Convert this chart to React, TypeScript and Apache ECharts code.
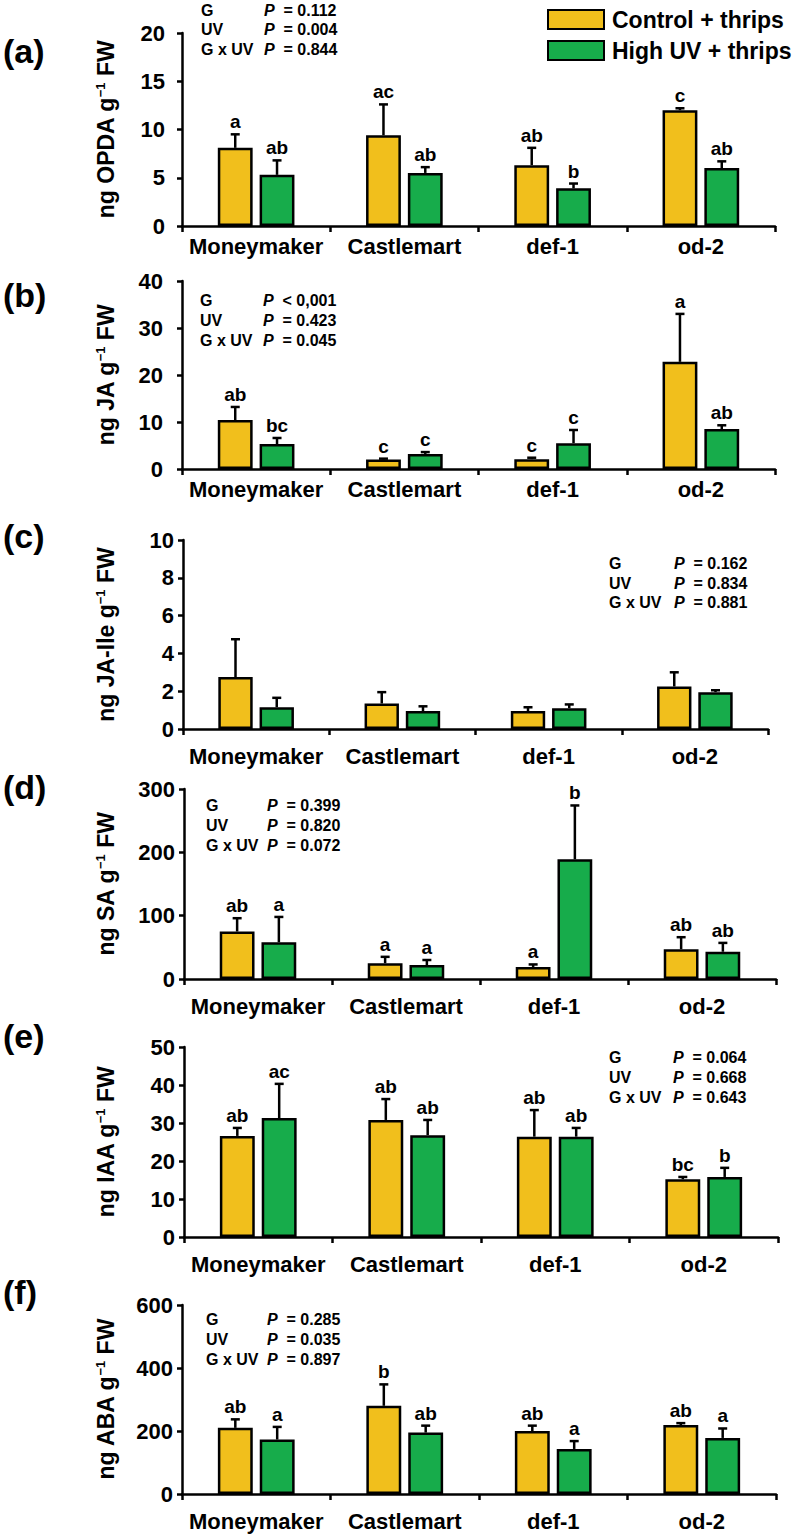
import React, { useEffect, useRef } from "react";
import * as echarts from "echarts";

const categories = ["Moneymaker", "Castlemart", "def-1", "od-2"];
const seriesNames = ["Control + thrips", "High UV + thrips"];
const statLabels = ["G", "UV", "G x UV"];

// (a) OPDA
const opdaControl = [8.1, 9.4, 6.3, 12.0];
const opdaControlErr = [1.4, 3.2, 1.8, 0.2];
const opdaUV = [5.3, 5.5, 3.9, 6.0];
const opdaUVErr = [1.5, 0.6, 0.5, 0.7];
const opdaControlLetters = ["a", "ac", "ab", "c"];
const opdaUVLetters = ["ab", "ab", "b", "ab"];
const opdaStats = ["= 0.112", "= 0.004", "= 0.844"];

// (b) JA
const jaControl = [10.4, 2.0, 2.1, 22.8];
const jaControlErr = [2.8, 0.2, 0.3, 10.2];
const jaUV = [5.3, 3.2, 5.5, 8.5];
const jaUVErr = [1.3, 0.4, 2.8, 0.8];
const jaControlLetters = ["ab", "c", "c", "a"];
const jaUVLetters = ["bc", "c", "c", "ab"];
const jaStats = ["< 0,001", "= 0.423", "= 0.045"];

// (c) JA-Ile
const jaIleControl = [2.75, 1.35, 0.95, 2.25];
const jaIleControlErr = [2.0, 0.6, 0.2, 0.75];
const jaIleUV = [1.15, 0.95, 1.1, 1.95];
const jaIleUVErr = [0.5, 0.25, 0.2, 0.1];
const jaIleControlLetters = ["", "", "", ""];
const jaIleUVLetters = ["", "", "", ""];
const jaIleStats = ["= 0.162", "= 0.834", "= 0.881"];

// (d) SA
const saControl = [75, 25, 19, 47];
const saControlErr = [21, 10, 4, 19];
const saUV = [58, 22, 189, 43];
const saUVErr = [40, 8, 85, 14];
const saControlLetters = ["ab", "a", "a", "ab"];
const saUVLetters = ["a", "a", "b", "ab"];
const saStats = ["= 0.399", "= 0.820", "= 0.072"];

// (e) IAA
const iaaControl = [26.6, 30.8, 26.4, 15.2];
const iaaControlErr = [2.1, 5.5, 7.0, 0.6];
const iaaUV = [31.3, 26.8, 26.4, 15.8];
const iaaUVErr = [9.0, 4.0, 2.3, 2.4];
const iaaControlLetters = ["ab", "ab", "ab", "bc"];
const iaaUVLetters = ["ac", "ab", "ab", "b"];
const iaaStats = ["= 0.064", "= 0.668", "= 0.643"];

// (f) ABA
const abaControl = [210, 280, 200, 219];
const abaControlErr = [27, 68, 17, 6];
const abaUV = [173, 195, 143, 178];
const abaUVErr = [40, 22, 25, 30];
const abaControlLetters = ["ab", "b", "ab", "ab"];
const abaUVLetters = ["a", "ab", "a", "a"];
const abaStats = ["= 0.285", "= 0.035", "= 0.897"];

const FONT = '"Liberation Sans", Arial, Helvetica, sans-serif';
const YELLOW = "#F1BF1C";
const GREEN = "#17AC4B";

const panels = [
  {
    tag: "(a)", title: "ng OPDA g{s|−1} FW", yMax: 20, yInterval: 5,
    control: opdaControl, controlErr: opdaControlErr, uv: opdaUV, uvErr: opdaUVErr,
    lettersC: opdaControlLetters, lettersU: opdaUVLetters, stats: opdaStats,
    grid: { left: 182, top: 33, width: 593, height: 193 },
    tagY: 51, statsX: [201, 264], statsY: [10, 29, 49], labelMargin: 17, catMargin: 9,
  },
  {
    tag: "(b)", title: "ng JA g{s|−1} FW", yMax: 40, yInterval: 10,
    control: jaControl, controlErr: jaControlErr, uv: jaUV, uvErr: jaUVErr,
    lettersC: jaControlLetters, lettersU: jaUVLetters, stats: jaStats,
    grid: { left: 182, top: 281, width: 593, height: 188 },
    tagY: 295, statsX: [200, 263], statsY: [300, 320, 340], labelMargin: 19, catMargin: 9,
  },
  {
    tag: "(c)", title: "ng JA-Ile g{s|−1} FW", yMax: 10, yInterval: 2,
    control: jaIleControl, controlErr: jaIleControlErr, uv: jaIleUV, uvErr: jaIleUVErr,
    lettersC: jaIleControlLetters, lettersU: jaIleUVLetters, stats: jaIleStats,
    grid: { left: 183, top: 540, width: 585, height: 189 },
    tagY: 536, statsX: [609, 674], statsY: [563, 583, 602], labelMargin: 9, catMargin: 16,
  },
  {
    tag: "(d)", title: "ng SA g{s|−1} FW", yMax: 300, yInterval: 100,
    control: saControl, controlErr: saControlErr, uv: saUV, uvErr: saUVErr,
    lettersC: saControlLetters, lettersU: saUVLetters, stats: saStats,
    grid: { left: 184, top: 789, width: 592, height: 190 },
    tagY: 787, statsX: [206, 267], statsY: [805, 825, 845], labelMargin: 9, catMargin: 16,
  },
  {
    tag: "(e)", title: "ng IAA g{s|−1} FW", yMax: 50, yInterval: 10,
    control: iaaControl, controlErr: iaaControlErr, uv: iaaUV, uvErr: iaaUVErr,
    lettersC: iaaControlLetters, lettersU: iaaUVLetters, stats: iaaStats,
    grid: { left: 184, top: 1047, width: 594, height: 190 },
    tagY: 1036, statsX: [609, 673], statsY: [1057, 1077, 1097], labelMargin: 9, catMargin: 16,
  },
  {
    tag: "(f)", title: "ng ABA g{s|−1} FW", yMax: 600, yInterval: 200,
    control: abaControl, controlErr: abaControlErr, uv: abaUV, uvErr: abaUVErr,
    lettersC: abaControlLetters, lettersU: abaUVLetters, stats: abaStats,
    grid: { left: 182, top: 1305, width: 594, height: 189 },
    tagY: 1292, statsX: [206, 267], statsY: [1319, 1339, 1359], labelMargin: 9, catMargin: 16,
  },
];

const BAR_W = 0.235;
const BAR_GAP = 0.2;
const OFFSET = BAR_W / 2 + (BAR_W * BAR_GAP) / 2;

function makeErr(sign: number, letters: string[]) {
  return (params: any, api: any) => {
    const ci = api.value(0);
    const v = api.value(1);
    const e = api.value(2);
    const base = api.coord([ci, v]);
    const top = api.coord([ci, v + e]);
    const cw = api.size([1, 0])[0];
    const x = base[0] + sign * cw * OFFSET;
    const children: any[] = [];
    if (e > 0) {
      children.push({
        type: "line",
        shape: { x1: x, y1: base[1], x2: x, y2: top[1] },
        style: { stroke: "#000", lineWidth: 2.5 },
      });
      children.push({
        type: "line",
        shape: { x1: x - 4.5, y1: top[1], x2: x + 4.5, y2: top[1] },
        style: { stroke: "#000", lineWidth: 2.5 },
      });
    }
    const letter = letters[params.dataIndex];
    if (letter) {
      children.push({
        type: "text",
        x: x,
        y: top[1] - 3,
        style: {
          text: letter,
          fontSize: 19,
          fontWeight: "bold",
          fontFamily: FONT,
          fill: "#000",
          align: "center",
          verticalAlign: "bottom",
        },
      });
    }
    return { type: "group", children };
  };
}

export default function App() {
  const ref = useRef<HTMLDivElement>(null);
  useEffect(() => {
    document.body.style.margin = "0";
    if (!ref.current) return;
    const chart = echarts.init(ref.current, undefined, { renderer: "svg" });
    const axisLineStyle = { color: "#000", width: 2.5 };
    const series: any[] = [];
    panels.forEach((p, i) => {
      series.push({
        type: "bar", name: seriesNames[0], xAxisIndex: i, yAxisIndex: i,
        data: p.control, barWidth: BAR_W * 100 + "%", barGap: BAR_GAP * 100 + "%",
        itemStyle: { color: YELLOW, borderColor: "#000", borderWidth: 2.5 },
      });
      series.push({
        type: "bar", name: seriesNames[1], xAxisIndex: i, yAxisIndex: i,
        data: p.uv, barWidth: BAR_W * 100 + "%", barGap: BAR_GAP * 100 + "%",
        itemStyle: { color: GREEN, borderColor: "#000", borderWidth: 2.5 },
      });
      series.push({
        type: "custom", xAxisIndex: i, yAxisIndex: i, z: 5, silent: true,
        encode: { x: 0, y: 1 },
        data: p.control.map((v, k) => [k, v, p.controlErr[k]]),
        renderItem: makeErr(-1, p.lettersC),
      });
      series.push({
        type: "custom", xAxisIndex: i, yAxisIndex: i, z: 5, silent: true,
        encode: { x: 0, y: 1 },
        data: p.uv.map((v, k) => [k, v, p.uvErr[k]]),
        renderItem: makeErr(1, p.lettersU),
      });
    });

    const graphics: any[] = [];
    panels.forEach((p) => {
      graphics.push({
        type: "text", x: 3, y: p.tagY,
        style: {
          text: p.tag, fontSize: 34, fontWeight: "bold", fontFamily: FONT,
          fill: "#000", align: "left", verticalAlign: "middle",
        },
      });
      graphics.push({
        type: "text", x: 106, y: p.grid.top + p.grid.height / 2, rotation: Math.PI / 2,
        style: {
          text: p.title, fontSize: 23, fontWeight: "bold", fontFamily: FONT,
          fill: "#000", align: "center", verticalAlign: "middle", lineHeight: 24,
          rich: {
            s: { fontSize: 13, fontWeight: "bold", fontFamily: FONT, fill: "#000", verticalAlign: "top", lineHeight: 14 },
          },
        },
      });
      p.stats.forEach((s, k) => {
        graphics.push({
          type: "text", x: p.statsX[0], y: p.statsY[k],
          style: {
            text: statLabels[k], fontSize: 16, fontWeight: "bold", fontFamily: FONT,
            fill: "#000", align: "left", verticalAlign: "middle",
          },
        });
        graphics.push({
          type: "text", x: p.statsX[1], y: p.statsY[k],
          style: {
            text: "{i|P}{n|  " + s + "}", fontSize: 16, fontWeight: "bold", fontFamily: FONT,
            fill: "#000", align: "left", verticalAlign: "middle",
            rich: {
              i: { fontSize: 16, fontWeight: "bold", fontStyle: "italic", fontFamily: FONT, fill: "#000" },
              n: { fontSize: 16, fontWeight: "bold", fontFamily: FONT, fill: "#000" },
            },
          },
        });
      });
    });

    const option: any = {
      animation: false,
      backgroundColor: "#fff",
      legend: {
        data: seriesNames, orient: "vertical", left: 547, top: 8,
        itemWidth: 56, itemHeight: 19, itemGap: 8, icon: "rect", selectedMode: false,
        padding: 0,
        textStyle: { fontSize: 23, fontWeight: "bold", fontFamily: FONT, color: "#000", lineHeight: 23, padding: [0, 0, 0, 3] },
      },
      grid: panels.map((p) => ({ ...p.grid })),
      xAxis: panels.map((p, i) => ({
        type: "category", gridIndex: i, data: categories,
        axisLine: { show: true, lineStyle: axisLineStyle },
        axisTick: { show: true, length: 6, lineStyle: axisLineStyle },
        axisLabel: {
          interval: 0, hideOverlap: false,
          fontSize: 22, fontWeight: "bold", fontFamily: FONT, color: "#000", margin: p.catMargin,
        },
      })),
      yAxis: panels.map((p, i) => ({
        type: "value", gridIndex: i, min: 0, max: p.yMax, interval: p.yInterval,
        axisLine: { show: true, lineStyle: axisLineStyle },
        axisTick: { show: true, length: 5, lineStyle: axisLineStyle },
        splitLine: { show: false },
        axisLabel: { fontSize: 22, fontWeight: "bold", fontFamily: FONT, color: "#000", margin: p.labelMargin },
      })),
      series,
      graphic: graphics,
    };
    chart.setOption(option);
    return () => chart.dispose();
  }, []);
  return <div ref={ref} style={{ width: 800, height: 1537 }} />;
}
